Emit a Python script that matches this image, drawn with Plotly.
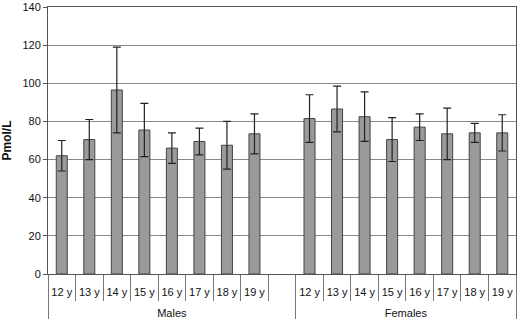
import plotly.graph_objects as go

groups = ["<br>Males"] * 9 + ["<br>Females"] * 8
ages = ["12 y", "13 y", "14 y", "15 y", "16 y", "17 y", "18 y", "19 y", " ",
        "12 y", "13 y", "14 y", "15 y", "16 y", "17 y", "18 y", "19 y"]
values = [62, 70.5, 96.5, 75.5, 66, 69.5, 67.5, 73.5, None,
          81.5, 86.5, 82.5, 70.5, 77, 73.5, 74, 74]
errors = [8, 10.5, 22.5, 14, 8, 7, 12.5, 10.5, None,
          12.5, 12, 13, 11.5, 7, 13.5, 5, 9.5]
y_ticks = [0, 20, 40, 60, 80, 100, 120, 140]

fig = go.Figure(go.Bar(
    x=[groups, ages],
    y=values,
    width=0.4,
    marker=dict(color="#9a9a9a", line=dict(color="#444444", width=1)),
    error_y=dict(type="data", array=errors, visible=True,
                 color="#222222", thickness=1.2, width=4),
))

fig.update_layout(
    width=520, height=329,
    margin=dict(l=48, r=4, t=7, b=55),
    paper_bgcolor="white", plot_bgcolor="white",
    font=dict(family="Liberation Sans, Arial, sans-serif", size=11, color="#111111"),
    showlegend=False,
    bargap=0.6,
)
fig.update_xaxes(
    type="multicategory", automargin=False,
    showline=True, linecolor="#555555", linewidth=1, mirror=True,
    ticks="outside", tickson="boundaries", ticklen=26, tickcolor="#777777",
    ticklabelstandoff=8,
    showdividers=True, dividercolor="#777777", dividerwidth=1,
    showgrid=False, tickangle=0,
    tickfont=dict(size=11),
)
fig.update_yaxes(
    range=[0, 140], tickvals=y_ticks, automargin=False,
    showgrid=True, gridcolor="#888888", gridwidth=1,
    showline=True, linecolor="#555555", linewidth=1, mirror=True,
    ticks="outside", ticklen=4, tickcolor="#555555",
    tickfont=dict(size=11),
    title=dict(text="<b>Pmol/L</b>", font=dict(size=12), standoff=8),
    zeroline=False,
)

fig.write_html("out.html", config={"displayModeBar": False},
               post_script="document.body.style.margin='0';")
